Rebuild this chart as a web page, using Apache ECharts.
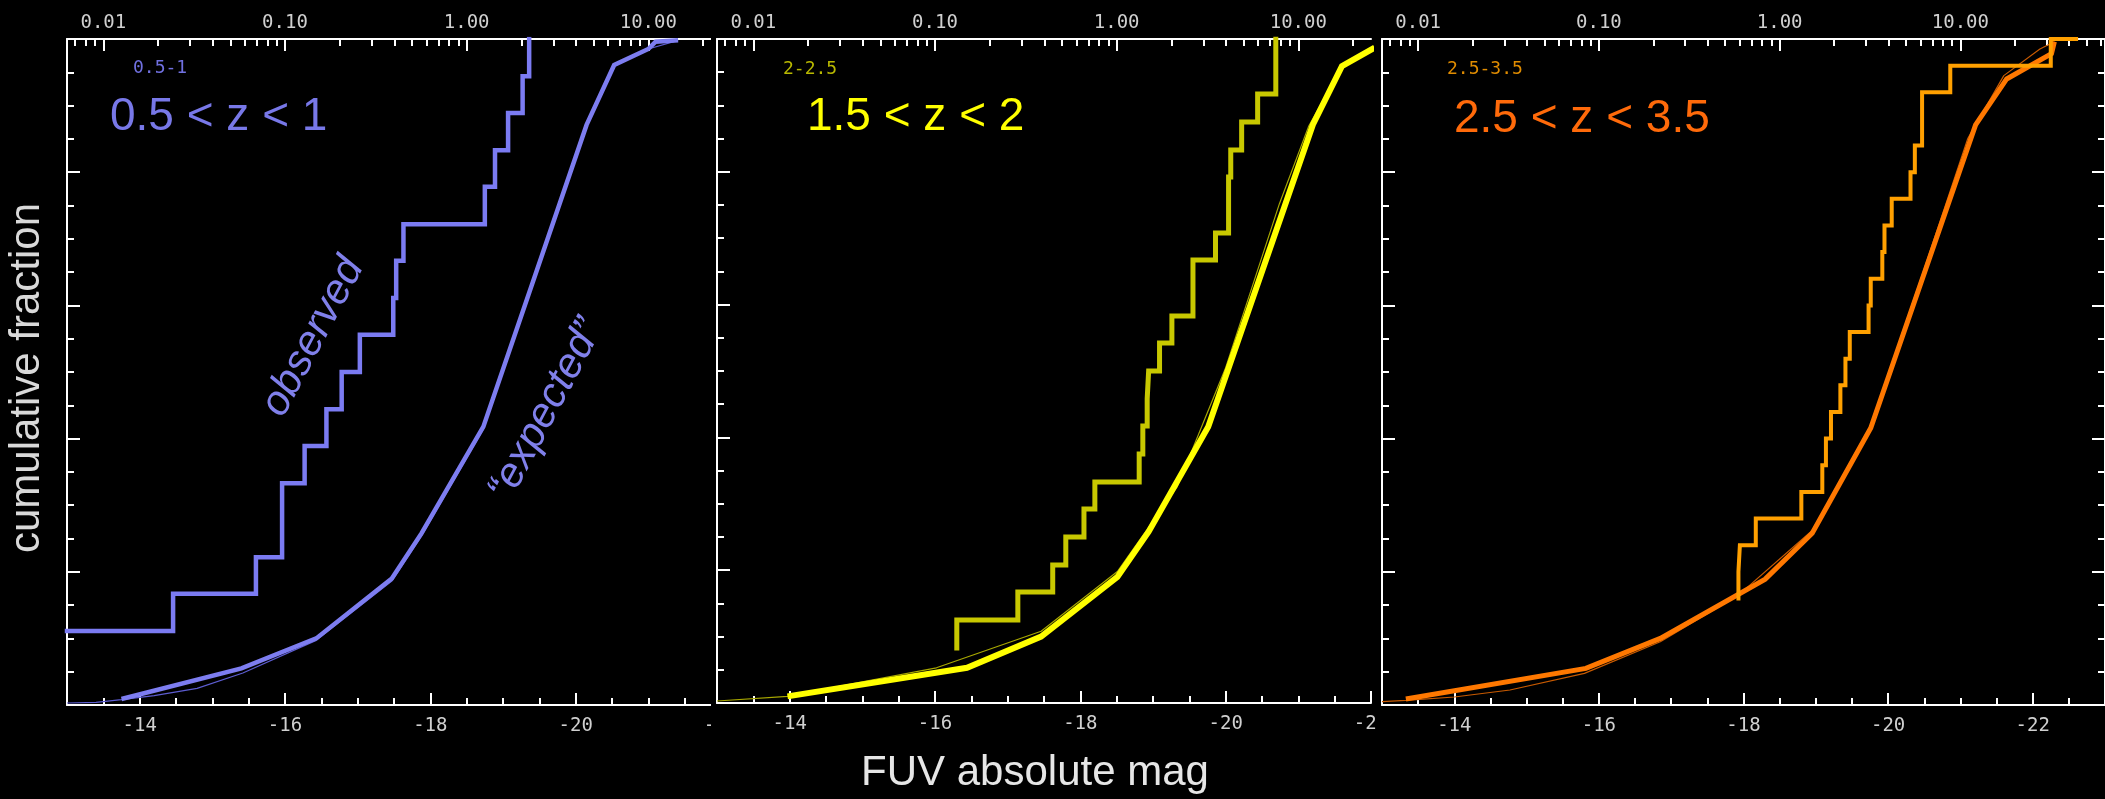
<!DOCTYPE html>
<html>
<head>
<meta charset="utf-8">
<title>Cumulative FUV magnitude distributions</title>
<script src="https://cdn.jsdelivr.net/npm/echarts@6/dist/echarts.min.js"></script>
<style>
  html, body { margin: 0; padding: 0; background: #000; }
  #chart { width: 2105px; height: 799px; }
</style>
</head>
<body>
<div id="chart"></div>
<script>
// ---- Data: FUV absolute magnitude vs. cumulative fraction ----

// 0.5 < z < 1
const p1ObsMag  = [-13.00, -14.46, -15.60, -15.96, -16.27, -16.57, -16.78, -17.03, -17.49, -17.53, -17.63, -18.75, -18.89, -19.07, -19.27, -19.36];
const p1ObsFrac = [0.111, 0.167, 0.222, 0.333, 0.389, 0.444, 0.500, 0.556, 0.611, 0.667, 0.722, 0.778, 0.833, 0.889, 0.944, 1.000];
const p1ExpMag  = [-13.75, -15.40, -16.43, -17.47, -17.88, -18.73, -20.15, -20.53, -21.00, -21.10, -21.41];
const p1ExpFrac = [0.009, 0.055, 0.100, 0.190, 0.258, 0.418, 0.871, 0.961, 0.985, 0.996, 0.998];
const p1ModMag  = [-13.00, -13.40, -13.75, -14.20, -14.79, -15.42, -16.43, -17.47, -17.88, -18.73, -20.15, -20.53, -21.00, -21.41];
const p1ModFrac = [0.003, 0.004, 0.008, 0.014, 0.025, 0.048, 0.097, 0.186, 0.254, 0.414, 0.868, 0.959, 0.985, 0.998];

// 1.5 < z < 2
const p2ObsMag  = [-16.30, -16.30, -17.14, -17.62, -17.80, -18.05, -18.20, -18.81, -18.86, -18.92, -18.94, -19.09, -19.26, -19.55, -19.86, -20.04, -20.07, -20.22, -20.44, -20.69];
const p2ObsFrac = [0.083, 0.125, 0.167, 0.208, 0.250, 0.292, 0.333, 0.375, 0.417, 0.458, 0.500, 0.542, 0.583, 0.667, 0.708, 0.792, 0.833, 0.875, 0.917, 1.000];
const p2ExpMag  = [-13.97, -16.44, -17.46, -18.51, -18.94, -19.76, -21.20, -21.60, -22.05];
const p2ExpFrac = [0.010, 0.053, 0.100, 0.190, 0.258, 0.416, 0.871, 0.959, 0.987];
const p2ModMag  = [-13.00, -13.97, -15.00, -16.02, -17.46, -18.51, -19.33, -20.00, -20.74, -21.14, -21.60, -22.05];
const p2ModFrac = [0.003, 0.010, 0.032, 0.053, 0.108, 0.198, 0.325, 0.505, 0.752, 0.868, 0.959, 0.987];

// 2.5 < z < 3.5
const p3ObsMag  = [-17.93, -17.93, -17.95, -18.17, -18.80, -19.09, -19.14, -19.21, -19.34, -19.41, -19.47, -19.73, -19.76, -19.92, -19.95, -20.05, -20.31, -20.37, -20.47, -20.86, -22.25, -22.60];
const p3ObsFrac = [0.16, 0.20, 0.24, 0.28, 0.32, 0.36, 0.40, 0.44, 0.48, 0.52, 0.56, 0.60, 0.64, 0.68, 0.72, 0.76, 0.80, 0.84, 0.92, 0.96, 1.00, 1.00];
const p3ExpMag  = [-13.33, -15.82, -16.85, -18.30, -18.95, -19.76, -21.21, -21.64, -22.26, -22.30];
const p3ExpFrac = [0.009, 0.055, 0.100, 0.189, 0.258, 0.416, 0.871, 0.940, 0.978, 0.996];
const p3ModMag  = [-13.00, -13.33, -14.00, -14.77, -15.80, -16.85, -17.93, -18.95, -19.76, -20.50, -21.10, -21.60, -22.10, -22.30];
const p3ModFrac = [0.005, 0.007, 0.012, 0.0225, 0.0475, 0.095, 0.165, 0.262, 0.420, 0.655, 0.850, 0.945, 0.985, 0.996];

// Axis ticks
const magMajorTicks = [-14, -16, -18, -20, -22];
const lumMajorTicks = [0.01, 0.1, 1, 10];
const magFaint = -13;           // faint end of every magnitude axis
const lumZeroMag = 13.5;        // magnitude where the top scale reads 0.01

// ---- Layout / styles ----
const GRID_TOP = 39, GRID_H = 666;
const panels = [
  { left: 67,   width: 654, magMin: -22,
    obs: [p1ObsMag, p1ObsFrac], exp: [p1ExpMag, p1ExpFrac], mod: [p1ModMag, p1ModFrac],
    obsColor: '#7b7bf2', expColor: '#7d7df0', modColor: '#5c5cd0', obsW: 4.5, expW: 4.5 },
  { left: 717,  width: 654, magMin: -22,
    obs: [p2ObsMag, p2ObsFrac], exp: [p2ExpMag, p2ExpFrac], mod: [p2ModMag, p2ModFrac],
    obsColor: '#c8c800', expColor: '#ffff00', modColor: '#a8a800', obsW: 5, expW: 6 },
  { left: 1382, width: 727, magMin: -23, rightAxis: true,
    obs: [p3ObsMag, p3ObsFrac], exp: [p3ExpMag, p3ExpFrac], mod: [p3ModMag, p3ModFrac],
    obsColor: '#ffa000', expColor: '#ff7800', modColor: '#c85a00', obsW: 4, expW: 5 }
];

const WHITE = '#ffffff';
const TICK_FONT = '"DejaVu Sans Mono", "Liberation Mono", monospace';
const TEXT_FONT = '"Liberation Sans", Arial, sans-serif';
const magToLum = m => 0.01 * Math.pow(10, 0.4 * (-m - lumZeroMag));
const pairs = (xs, ys) => xs.map((x, k) => [x, ys[k]]);

function magMinorTicks(min) {
  const out = [];
  for (let v = min; v <= magFaint + 1e-9; v += 0.5) {
    if (Math.abs(v - Math.round(v / 2) * 2) > 1e-9) out.push(+v.toFixed(2));
  }
  return out;
}
function lumMinorTicks(lo, hi) {
  const out = [];
  for (let d = -3; d <= 2; d++) {
    for (let k = 2; k <= 9; k++) {
      const v = k * Math.pow(10, d);
      if (v >= lo && v <= hi) out.push(v);
    }
  }
  return out;
}

const grids = [], xAxes = [], yAxes = [], series = [];

panels.forEach((p, i) => {
  const z = 10 * (i + 1);
  grids.push({ left: p.left, top: GRID_TOP, width: p.width, height: GRID_H });
  const lumLo = magToLum(magFaint), lumHi = magToLum(p.magMin);
  const magIdx = xAxes.length;

  // magnitude axis (bottom) with labels
  xAxes.push({
    type: 'value', gridIndex: i, position: 'bottom', inverse: true,
    min: p.magMin, max: magFaint, z: z,
    axisLine: { show: true, onZero: false, lineStyle: { color: WHITE, width: 2 } },
    axisTick: { show: true, inside: true, length: 12, customValues: magMajorTicks,
                lineStyle: { color: WHITE, width: 2 } },
    axisLabel: { show: true, customValues: magMajorTicks, margin: 12, color: '#d0d0d0',
                 fontFamily: TICK_FONT, fontSize: 19, formatter: v => String(v) },
    splitLine: { show: false },
    name: i === 1 ? 'FUV absolute mag' : '',
    nameLocation: 'middle', nameGap: 49,
    nameTextStyle: { color: '#e6e6e6', fontFamily: TEXT_FONT, fontSize: 42, padding: [0, 18, 0, 0] }
  });
  // magnitude minor ticks
  xAxes.push({
    type: 'value', gridIndex: i, position: 'bottom', inverse: true,
    min: p.magMin, max: magFaint, z: z,
    axisLine: { show: false, onZero: false },
    axisTick: { show: true, inside: true, length: 7, customValues: magMinorTicks(p.magMin),
                lineStyle: { color: WHITE, width: 2 } },
    axisLabel: { show: false }, splitLine: { show: false }
  });
  // luminosity axis (top, logarithmic)
  xAxes.push({
    type: 'log', logBase: 10, gridIndex: i, position: 'top',
    min: lumLo, max: lumHi, z: z,
    axisLine: { show: true, onZero: false, lineStyle: { color: WHITE, width: 2 } },
    axisTick: { show: true, inside: true, length: 12, customValues: lumMajorTicks,
                lineStyle: { color: WHITE, width: 2 } },
    axisLabel: { show: true, customValues: lumMajorTicks, margin: 6, color: '#d0d0d0',
                 fontFamily: TICK_FONT, fontSize: 19, formatter: v => Number(v).toFixed(2) },
    splitLine: { show: false }
  });
  xAxes.push({
    type: 'log', logBase: 10, gridIndex: i, position: 'top',
    min: lumLo, max: lumHi, z: z,
    axisLine: { show: false, onZero: false },
    axisTick: { show: true, inside: true, length: 7, customValues: lumMinorTicks(lumLo, lumHi),
                lineStyle: { color: WHITE, width: 2 } },
    axisLabel: { show: false }, splitLine: { show: false }
  });

  const fracAxis = (pos, named) => ({
    type: 'value', gridIndex: i, position: pos, min: 0, max: 1, interval: 0.2, z: z,
    axisLine: { show: true, onZero: false, lineStyle: { color: WHITE, width: 2 } },
    axisTick: { show: true, inside: true, length: 13, lineStyle: { color: WHITE, width: 2 } },
    minorTick: { show: true, splitNumber: 4, length: 7, lineStyle: { color: WHITE, width: 2 } },
    axisLabel: { show: false }, splitLine: { show: false }, minorSplitLine: { show: false },
    name: named ? 'cumulative fraction' : '',
    nameLocation: 'middle', nameGap: 19,
    nameTextStyle: { color: '#d9d9d9', fontFamily: TEXT_FONT, fontSize: 42, padding: [0, 12, 0, 0] }
  });
  const yIdx = yAxes.length;
  yAxes.push(fracAxis('left', i === 0));
  if (p.rightAxis) yAxes.push(fracAxis('right', false));

  const common = { type: 'line', xAxisIndex: magIdx, yAxisIndex: yIdx, showSymbol: false,
                   symbol: 'none', silent: true, animation: false };
  series.push(Object.assign({}, common, {
    data: pairs(p.mod[0], p.mod[1]), z: z + 1,
    lineStyle: { color: p.modColor, width: 1.2 }
  }));
  series.push(Object.assign({}, common, {
    data: pairs(p.exp[0], p.exp[1]), z: z + 2,
    lineStyle: { color: p.expColor, width: p.expW, join: 'miter' }
  }));
  series.push(Object.assign({}, common, {
    data: pairs(p.obs[0], p.obs[1]), z: z + 3, step: 'end',
    lineStyle: { color: p.obsColor, width: p.obsW, join: 'miter', cap: 'square' }
  }));
});

const DEG = Math.PI / 180;
const textEl = (txt, x, y, font, fill) => ({
  type: 'text', x: x, y: y, z: 50, silent: true,
  style: { text: txt, x: 0, y: 0, font: font, fill: fill, align: 'left', verticalAlign: 'middle' }
});

const graphicEls = [
  // neighbouring panels are stacked: hide what runs past each panel's right edge
  { type: 'rect', z: 15, silent: true, shape: { x: 711, y: 0, width: 29, height: 799 }, style: { fill: '#000' } },
  { type: 'rect', z: 25, silent: true, shape: { x: 1376, y: 0, width: 24, height: 799 }, style: { fill: '#000' } },

  textEl('0.5 < z < 1',   110, 117, '46px ' + TEXT_FONT, '#7878e8'),
  textEl('1.5 < z < 2',   807, 117, '46px ' + TEXT_FONT, '#ffff00'),
  textEl('2.5 < z < 3.5', 1454, 119, '46px ' + TEXT_FONT, '#ff6a0a'),
  textEl('0.5-1',   133, 68, '18px ' + TICK_FONT, '#7070e0'),
  textEl('2-2.5',   783, 69, '18px ' + TICK_FONT, '#b8b800'),
  textEl('2.5-3.5', 1447, 69, '18px ' + TICK_FONT, '#e08c00'),
];
const rotated = (txt, x, y) => ({
  type: 'text', x: x, y: y, rotation: 62 * DEG, z: 50, silent: true,
  style: { text: txt, x: 0, y: 0, font: 'italic 42px ' + TEXT_FONT, fill: '#8080ea',
           align: 'center', verticalAlign: 'middle' }
});
graphicEls.push(rotated('observed', 313, 337));
graphicEls.push(rotated('\u201Cexpected\u201D', 546, 410));

const chart = echarts.init(document.getElementById('chart'), null, { renderer: 'canvas' });
chart.setOption({
  backgroundColor: '#000',
  animation: false,
  grid: grids,
  xAxis: xAxes,
  yAxis: yAxes,
  series: series,
  graphic: { elements: graphicEls }
});
</script>
</body>
</html>
